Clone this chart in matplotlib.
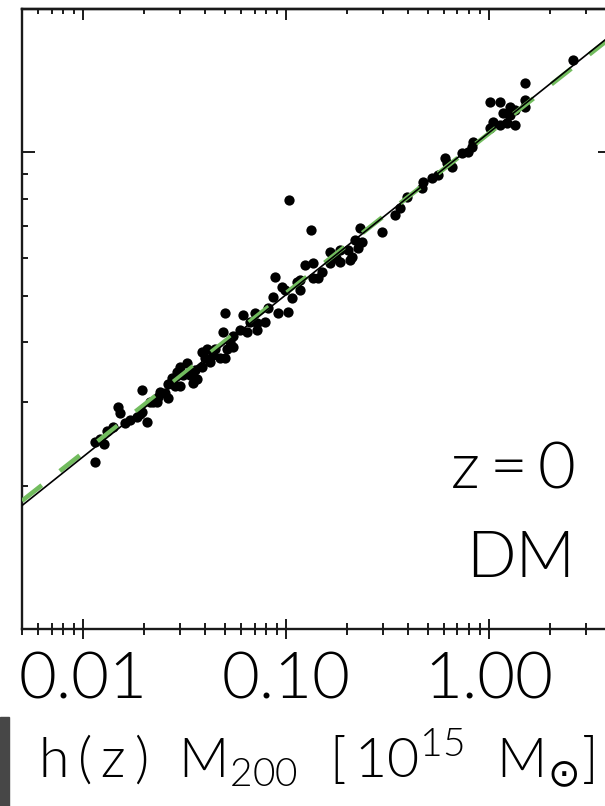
import numpy as np
import matplotlib
matplotlib.use('Agg')
import matplotlib.pyplot as plt
from matplotlib.patches import Rectangle
from matplotlib.ticker import NullFormatter, FixedLocator, FixedFormatter

FONT = 'Lato'
plt.rcParams['font.family'] = [FONT, 'DejaVu Sans']
plt.rcParams['font.weight'] = 300
plt.rcParams['axes.labelweight'] = 300

# halo mass h(z) M200 [1e15 Msun] and velocity dispersion [km/s]
mass = [0.0121, 0.0131, 0.0140, 0.0149, 0.0152, 0.0115, 0.0115, 0.0127, 0.0161, 0.0185,
        0.0191, 0.0195, 0.0195, 0.0207, 0.0214, 0.0221, 0.0231, 0.0234, 0.0254, 0.0262,
        0.0262, 0.0284, 0.0301, 0.0291, 0.0311, 0.0301, 0.0325, 0.0348, 0.0365, 0.0356,
        0.0386, 0.0423, 0.0473, 0.0501, 0.0386, 0.0408, 0.0447, 0.0512, 0.0548, 0.0489,
        0.0548, 0.0594, 0.0643, 0.0720, 0.0501, 0.0614, 0.0704, 0.0720, 0.0788, 0.0914,
        0.102, 0.0863, 0.0956, 0.0989, 0.117, 0.0883, 0.113, 0.117, 0.136, 0.144,
        0.124, 0.136, 0.165, 0.185, 0.202, 0.212, 0.165, 0.185, 0.207, 0.219,
        0.237, 0.133, 0.1035, 0.232, 0.297, 0.345, 0.395, 0.468, 0.473, 0.561,
        0.608, 0.622, 0.658, 0.738, 0.789, 0.826, 0.836, 1.013, 1.048, 1.134,
        1.228, 1.346, 1.174, 1.271, 1.271, 1.346, 1.507, 1.507, 1.013, 1.134,
        1.507, 2.598, 0.0337, 0.0399, 0.0437, 0.0530, 0.0665, 0.0815, 0.1071, 0.1505,
        0.1764, 0.2265, 0.3648, 0.5244, 0.0239, 0.0170, 0.0274]
sigma = [250, 260, 265, 293, 284, 247, 224, 244, 271, 279,
         282, 286, 318, 272, 299, 300, 299, 307, 313, 306,
         326, 323, 323, 347, 342, 355, 362, 329, 334, 350,
         355, 364, 371, 371, 382, 386, 386, 386, 391, 419,
         411, 425, 421, 425, 461, 457, 461, 439, 441, 461,
         463, 498, 523, 515, 515, 549, 535, 541, 546, 546,
         581, 587, 619, 625, 625, 604, 587, 590, 595, 656,
         649, 688, 796, 695, 682, 740, 807, 843, 868, 898,
         974, 951, 933, 998, 1003, 1027, 1052, 1126, 1159, 1142,
         1153, 1142, 1211, 1199, 1246, 1228, 1246, 1289, 1276, 1276,
         1399, 1564, 342, 371, 376, 401, 441, 472, 496, 562,
         601, 631, 765, 885, 315, 275, 337]

# power-law fits: sigma = norm * M^slope
fit_norm = 1100.0
fit_slope = 0.34
ref_norm = 1096.0
ref_slope = 0.335

x_ticks = [0.01, 0.1, 1.0]
x_tick_labels = ['0.01', '0.10', '1.00']

fig = plt.figure(figsize=(6.05, 8.06), dpi=100)
ax = fig.add_axes([22 / 605, 1 - 629 / 806, 589 / 605, 620 / 806])
ax.set_xscale('log')
ax.set_yscale('log')
ax.set_xlim(0.005, 4)
ax.set_ylim(100, 2000)

ax.plot(mass, sigma, 'o', color='black', markersize=7.4, markeredgewidth=0, zorder=2)

xx = np.array(ax.get_xlim())
ax.plot(xx, ref_norm * xx ** ref_slope, color='#72bc5e', lw=3.3,
        dashes=(5.5, 5.0), zorder=3, solid_capstyle='butt')
ax.plot(xx, fit_norm * xx ** fit_slope, color='black', lw=1.2, zorder=4)

for s in ax.spines.values():
    s.set_linewidth(1.7)
    s.set_color('#1a1a1a')

ax.xaxis.set_major_locator(FixedLocator(x_ticks))
ax.xaxis.set_major_formatter(FixedFormatter(x_tick_labels))
ax.xaxis.set_minor_formatter(NullFormatter())
ax.tick_params(axis='x', which='both', direction='inout', top=False,
               width=1.4, color='#1a1a1a', labelsize=47, pad=9)
ax.tick_params(axis='x', which='major', length=14)
ax.tick_params(axis='x', which='minor', length=8)

ax.tick_params(axis='y', which='both', direction='in', left=True, right=True,
               labelleft=False, width=1.4, color='#1a1a1a')
ax.tick_params(axis='y', which='major', length=9.5)
ax.tick_params(axis='y', which='minor', length=4.5)
ax.yaxis.set_minor_formatter(NullFormatter())

top = ax.secondary_xaxis('top')
top.tick_params(which='both', direction='in', labeltop=False, width=1.4, color='#1a1a1a')
top.tick_params(which='major', length=8)
top.tick_params(which='minor', length=3.8)
top.spines['top'].set_linewidth(1.7)

ax.set_xlabel(r'h$\,$($\,$z$\,$)  M$_{\mathregular{200}}$  [$\,$10$^{\mathregular{15}}$  M$_{\odot}$]',
              fontsize=40, labelpad=12)

ax.text(0.939, 0.229, r'z$\,$=$\,$0', transform=ax.transAxes, ha='right', va='baseline',
        fontsize=47)
ax.text(0.939, 0.084, 'DM', transform=ax.transAxes, ha='right', va='baseline', fontsize=47)

fig.patches.append(Rectangle((0, 0), 9 / 605, 89 / 806, transform=fig.transFigure,
                             color='#474747', zorder=0))

fig.savefig('out.png', dpi=100)
